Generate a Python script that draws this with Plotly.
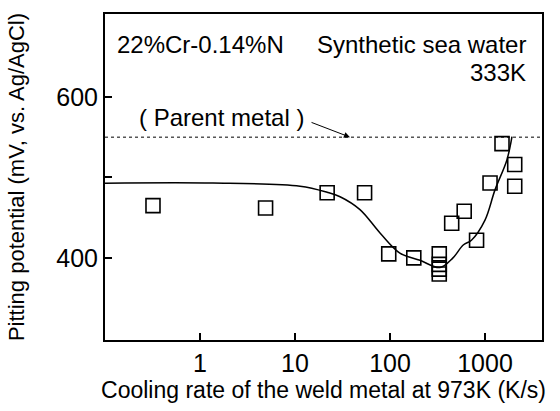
import plotly.graph_objects as go
import numpy as np

# Measured data (cooling rate K/s, pitting potential mV)
rate_pts = [0.32, 4.9, 21.8, 54, 97, 178, 330, 330, 330, 330, 446, 604, 815, 1130, 1510, 2055, 2055]
pot_pts = [465, 462, 481, 481, 405, 400, 405, 392, 386, 380, 443, 458, 422, 493, 542, 516, 489]

# Hand-drawn trend curve
curve_rate = [0.1, 1.37, 11.3, 21.8, 29.8, 48.3, 78.5, 127, 207, 336, 460, 590, 720, 1000, 1274, 1700, 1923]
curve_pot = [492.8, 493, 489, 481.5, 476, 460, 431, 406, 397, 388, 400, 416, 422, 447, 484.5, 521.7, 550.7]

parent_metal = 550
xticks = [1, 10, 100, 1000]
xticktext = ["1", "10", "100", "1000"]
yticks = [400, 500, 600]
yticktext = ["400", "", "600"]

FONT = "Liberation Sans, Arial, sans-serif"

fig = go.Figure()
fig.add_trace(go.Scatter(x=curve_rate, y=curve_pot, mode="lines",
                         line=dict(color="black", width=1.5, shape="spline", smoothing=1.0),
                         showlegend=False, hoverinfo="skip"))
fig.add_trace(go.Scatter(x=rate_pts, y=pot_pts, mode="markers",
                         marker=dict(symbol="square-open", size=14, color="black", line=dict(width=1.6)),
                         showlegend=False))

fig.add_shape(type="line", xref="paper", x0=0, x1=1, yref="y", y0=parent_metal, y1=parent_metal,
              line=dict(color="black", width=1, dash="3px,3px"))

fig.add_annotation(x=np.log10(37.9), y=parent_metal, ax=np.log10(14.4), ay=569,
                   xref="x", yref="y", axref="x", ayref="y", text="",
                   showarrow=True, arrowhead=2, arrowsize=1.2, arrowwidth=1, arrowcolor="black")
fig.add_annotation(x=np.log10(1.68), y=574, xref="x", yref="y", text="( Parent metal )",
                   showarrow=False, font=dict(size=24, color="black", family=FONT))
fig.add_annotation(x=0.023, y=0.905, xref="paper", yref="paper", text="22%Cr-0.14%N",
                   xanchor="left", yanchor="middle", showarrow=False,
                   font=dict(size=24, color="black", family=FONT))
fig.add_annotation(x=0.968, y=0.905, xref="paper", yref="paper", text="Synthetic sea water",
                   xanchor="right", yanchor="middle", showarrow=False,
                   font=dict(size=24, color="black", family=FONT))
fig.add_annotation(x=0.968, y=0.822, xref="paper", yref="paper", text="333K",
                   xanchor="right", yanchor="middle", showarrow=False,
                   font=dict(size=24, color="black", family=FONT))

fig.update_xaxes(type="log", range=[-1, 3.6], tickvals=xticks, ticktext=xticktext,
                 ticks="inside", ticklen=7, tickwidth=1.5, tickcolor="black",
                 showline=True, linecolor="black", linewidth=2, mirror=True,
                 showgrid=False, zeroline=False,
                 tickfont=dict(size=25, color="black", family=FONT),
                 title=dict(text="Cooling rate of the weld metal at 973K (K/s)",
                            font=dict(size=23, color="black", family=FONT), standoff=5))
fig.update_yaxes(range=[298, 703], tickvals=yticks, ticktext=yticktext,
                 ticks="inside", ticklen=7, tickwidth=1.5, tickcolor="black",
                 showline=True, linecolor="black", linewidth=2, mirror=True,
                 showgrid=False, zeroline=False,
                 tickfont=dict(size=25, color="black", family=FONT),
                 title=dict(text="Pitting potential (mV, vs. Ag/AgCl)",
                            font=dict(size=22, color="black", family=FONT), standoff=26))

fig.update_layout(width=560, height=411, autosize=False,
                  margin=dict(l=105, r=18, t=14, b=71),
                  paper_bgcolor="white", plot_bgcolor="white")

fig.write_html("out.html")
